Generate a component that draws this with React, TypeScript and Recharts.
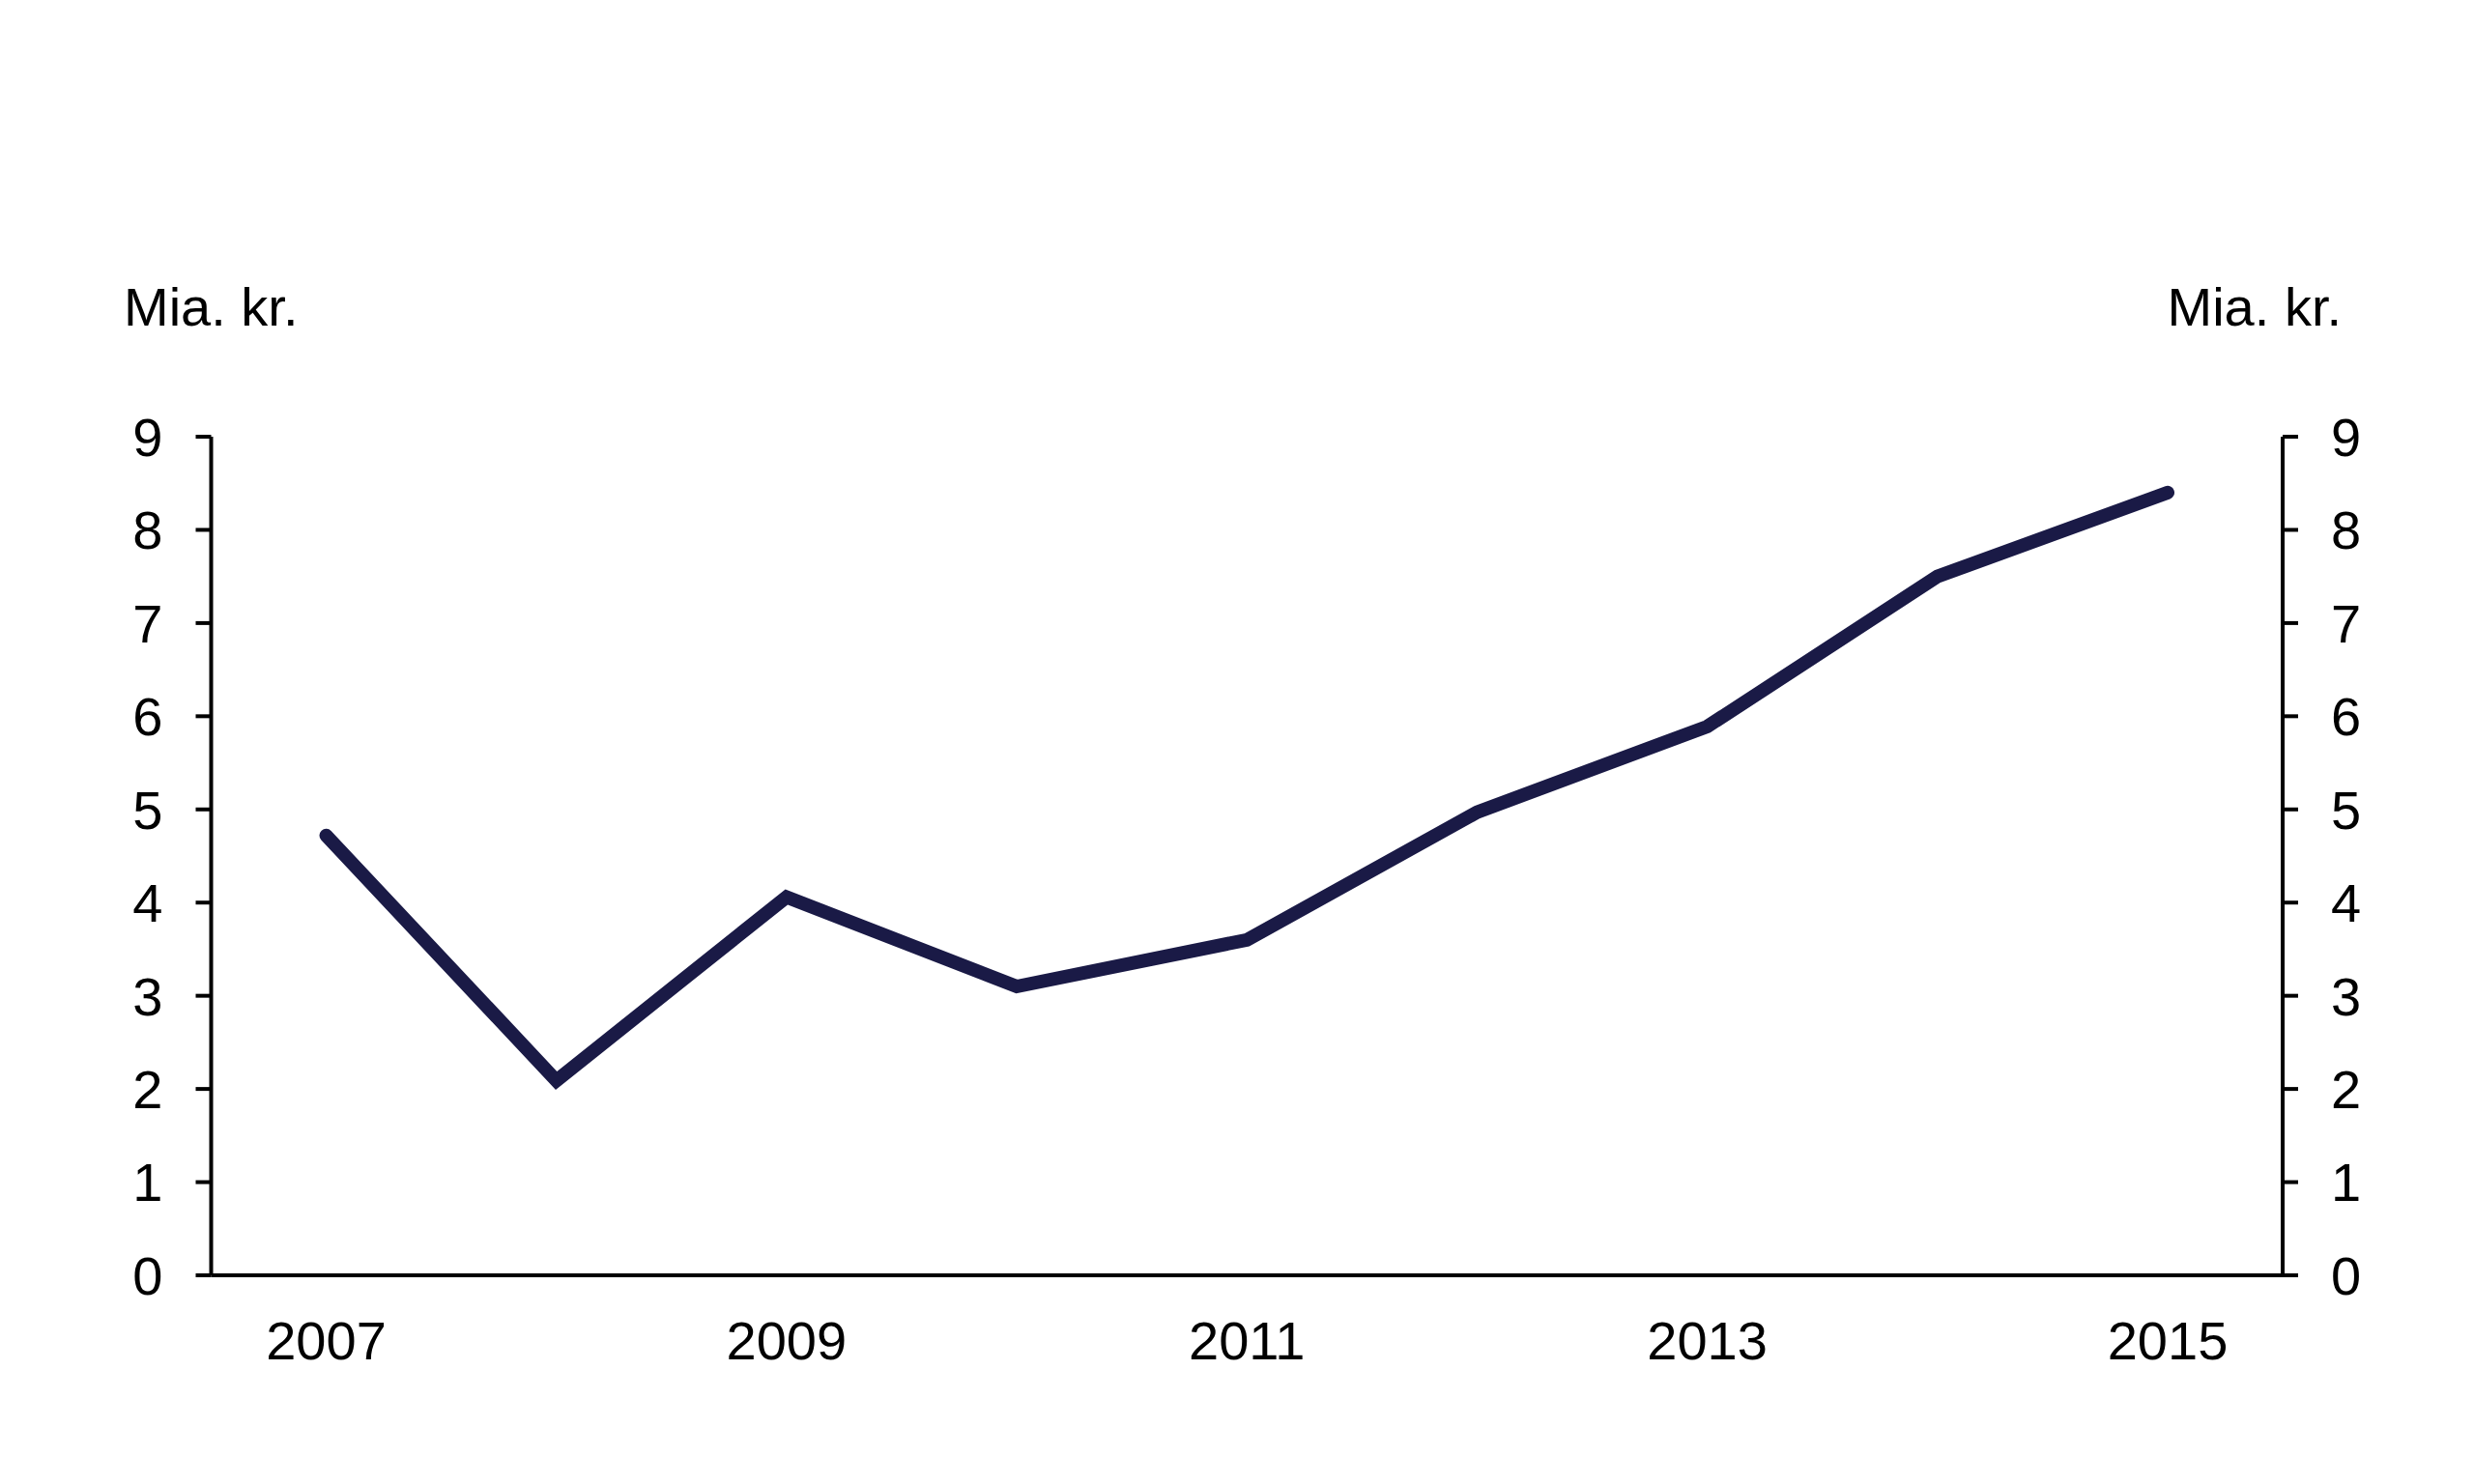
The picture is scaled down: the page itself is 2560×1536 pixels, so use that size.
import React from "react";
import { LineChart, Line, XAxis, YAxis } from "recharts";

const years = ["2007", "2008", "2009", "2010", "2011", "2012", "2013", "2014", "2015"];
const values = [4.72, 2.09, 4.06, 3.1, 3.6, 4.97, 5.89, 7.5, 8.4];
const yTicks = [0, 1, 2, 3, 4, 5, 6, 7, 8, 9];
const unitLabel = "Mia. kr.";

const data = years.map((y, i) => ({ year: y, value: values[i] }));

const FONT = "'Liberation Sans', Arial, Helvetica, sans-serif";
const tickStyle = { fill: "#000", fontSize: 56, fontFamily: FONT };
const axisStroke = { stroke: "#000", strokeWidth: 4 };

export default function App() {
  return (
    <div style={{ position: "absolute", left: 0, top: 0, width: 2560, height: 1536, background: "#fff" }}>
      <LineChart
        width={2560}
        height={1536}
        data={data}
        margin={{ top: 452, right: 0, bottom: 0, left: 0 }}
      >
        <XAxis
          dataKey="year"
          interval={1}
          tickLine={false}
          tickSize={0}
          tickMargin={47}
          height={216}
          padding={{ left: 119, right: 119 }}
          axisLine={axisStroke}
          tick={tickStyle}
        />
        <YAxis
          yAxisId="left"
          domain={[0, 9]}
          ticks={yTicks}
          width={218.5}
          tickSize={16}
          tickMargin={34}
          axisLine={axisStroke}
          tickLine={axisStroke}
          tick={tickStyle}
          allowDataOverflow
        />
        <YAxis
          yAxisId="right"
          orientation="right"
          domain={[0, 9]}
          ticks={yTicks}
          width={198}
          tickSize={16}
          tickMargin={34}
          axisLine={axisStroke}
          tickLine={axisStroke}
          tick={tickStyle}
          allowDataOverflow
        />
        <Line
          yAxisId="right"
          type="linear"
          dataKey="value"
          stroke="none"
          strokeOpacity={0}
          dot={false}
          activeDot={false}
          legendType="none"
          isAnimationActive={false}
        />
        <Line
          yAxisId="left"
          type="linear"
          dataKey="value"
          stroke="#1a1a46"
          strokeWidth={14}
          strokeLinecap="round"
          strokeLinejoin="miter"
          dot={false}
          activeDot={false}
          isAnimationActive={false}
        />
      </LineChart>
      <svg
        width={2560}
        height={1536}
        style={{ position: "absolute", left: 0, top: 0, pointerEvents: "none" }}
      >
        <text x={128} y={337} fontSize={56} fontFamily={FONT} fill="#000">
          {unitLabel}
        </text>
        <text x={2423} y={337} fontSize={56} fontFamily={FONT} fill="#000" textAnchor="end">
          {unitLabel}
        </text>
      </svg>
    </div>
  );
}
